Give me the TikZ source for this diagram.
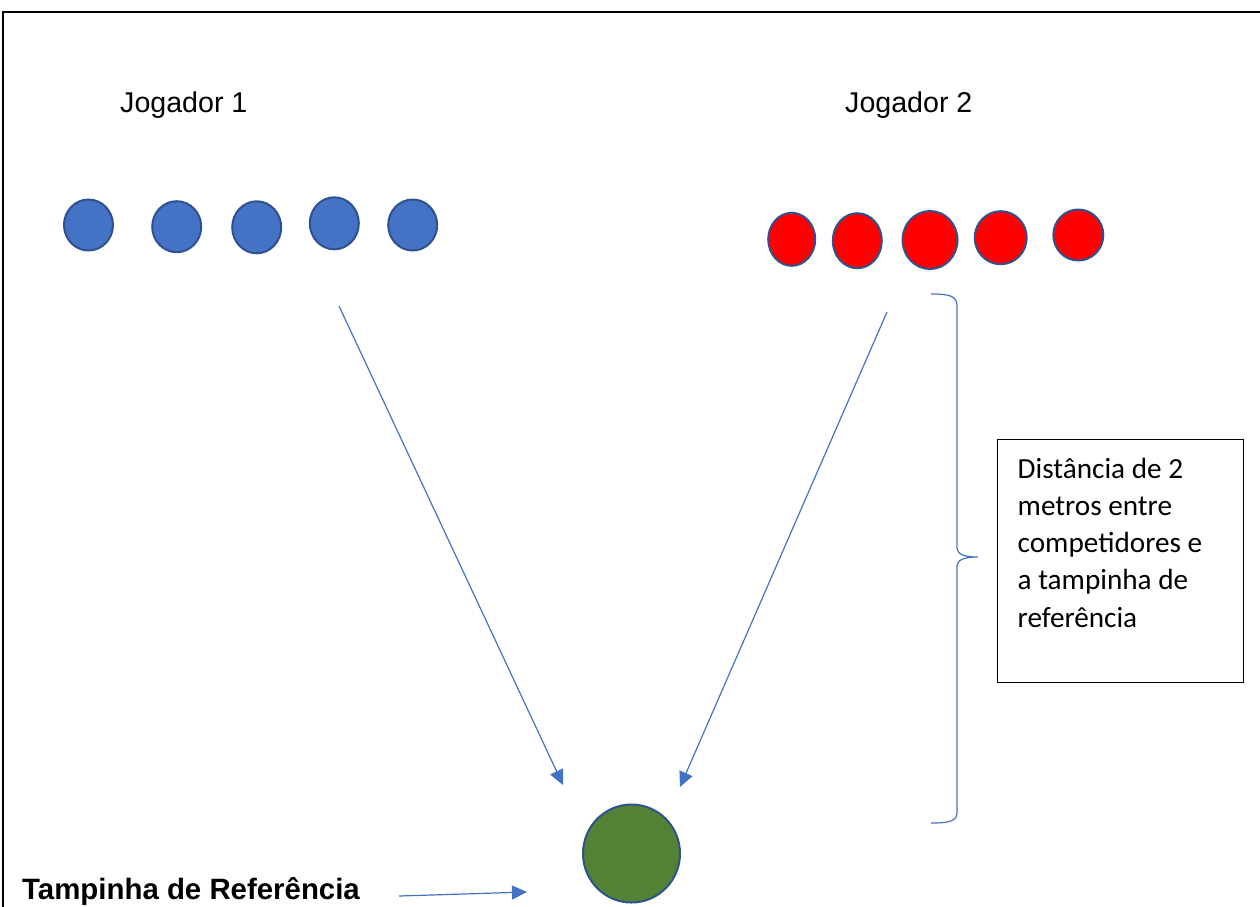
\documentclass[tikz,border=0pt]{standalone}
\usepackage{fontspec}
\setmainfont{Liberation Sans}
\newfontfamily\calibrifont{Carlito}
\usetikzlibrary{arrows.meta,shapes.geometric}
\definecolor{bluefill}{HTML}{4472C4}
\definecolor{coinedge}{HTML}{2F528F}
\definecolor{greenfill}{HTML}{548235}
\definecolor{arrowblue}{HTML}{4472C4}
\definecolor{redfill}{HTML}{FF0000}
\begin{document}
\begin{tikzpicture}[x=1pt,y=-1pt,
  coin/.style={ellipse, draw=coinedge, line width=2pt, inner sep=0pt},
  bluecoin/.style={coin, fill=bluefill, minimum width=49pt, minimum height=51pt},
  redcoin/.style={coin, fill=redfill},
  link/.style={draw=arrowblue, line width=1.2pt, -{Triangle[length=15pt,width=14pt]}},
  title/.style={anchor=base west, inner sep=0pt, font=\fontsize{28.6}{34}\selectfont},
  boxline/.style={anchor=base west, inner sep=0pt, font=\calibrifont\fontsize{29.2}{36}\selectfont}]
\useasboundingbox (0,0) rectangle (1260,906);
\draw[line width=2pt] (3,12) rectangle (1266,915);

% titles
\node[title] (j1) at (120,112.5) {Jogador 1};
\node[title] (j2) at (845,112.5) {Jogador 2};

% blue coins
\node[bluecoin] (b1) at (88.5,225) {};
\node[bluecoin] (b2) at (176.7,226.7) {};
\node[bluecoin, minimum height=52pt] (b3) at (256.7,227.3) {};
\node[bluecoin, minimum height=52pt] (b4) at (334.3,223.3) {};
\node[bluecoin] (b5) at (412.7,225) {};

% red coins
\node[redcoin, minimum width=47pt, minimum height=53pt] (r1) at (791.7,239.3) {};
\node[redcoin, minimum width=49pt, minimum height=55pt] (r2) at (857.3,240.7) {};
\node[redcoin, minimum width=55pt, minimum height=58pt] (r3) at (930,240) {};
\node[redcoin, minimum width=52pt, minimum height=53pt] (r4) at (1000.7,237.7) {};
\node[redcoin, minimum width=50pt, minimum height=51pt] (r5) at (1078.3,235) {};

% reference cap
\node[coin, fill=greenfill, minimum width=97pt, minimum height=98pt] (ref) at (631.5,853.5) {};

% arrows
\coordinate (s1) at (339,306);
\coordinate (e1) at (563,785);
\coordinate (s2) at (887,312);
\coordinate (e2) at (680,787);
\coordinate (s3) at (399,896);
\coordinate (e3) at (527,892);
\draw[link] (s1) -- (e1);
\draw[link] (s2) -- (e2);
\draw[link] (s3) -- (e3);

% bottom label
\node[anchor=base west, inner sep=0pt, font=\bfseries\fontsize{29.4}{34}\selectfont] (tref) at (22,899.5) {Tampinha de Referência};

% brace
\draw[arrowblue, line width=1.2pt]
  (931,294) .. controls (950,294) and (957,296) .. (957,306)
  -- (957,547) .. controls (957,554) and (963,557) .. (978,557)
  .. controls (963,557) and (957,560) .. (957,567)
  -- (957,812) .. controls (957,821) and (950,823) .. (931,823);

% text box
\node[draw, line width=1pt, minimum width=246pt, minimum height=243pt, anchor=north west, inner sep=0pt] (box) at (997,439) {};
\node[boxline] (t1) at (1017.5,478) {Distância de 2};
\node[boxline] (t2) at (1017.5,515.3) {metros entre};
\node[boxline] (t3) at (1017.5,552.6) {competidores e};
\node[boxline] (t4) at (1017.5,589.9) {a tampinha de};
\node[boxline] (t5) at (1017.5,627.2) {referência};
\end{tikzpicture}
\end{document}
